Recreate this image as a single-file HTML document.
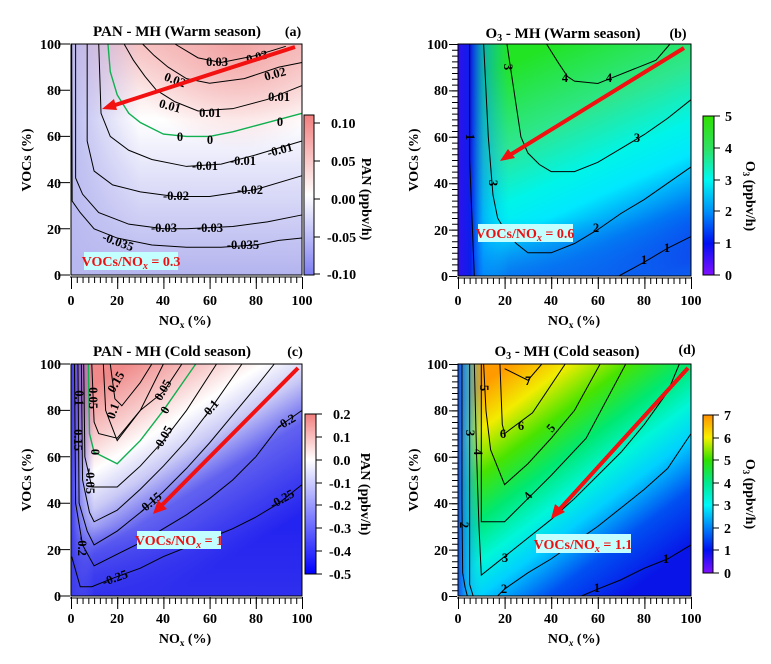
<!DOCTYPE html>
<html><head><meta charset="utf-8"><style>
html,body{margin:0;padding:0;background:#fff}
svg{display:block;font-family:"Liberation Serif",serif;font-weight:bold}
.t{font-size:14px}
.ti{font-size:15px}
.cl{font-size:12.5px}
.ct{fill:none;stroke:#000;stroke-width:1;vector-effect:non-scaling-stroke}
.cg{fill:none;stroke:#10b050;stroke-width:1.4;vector-effect:non-scaling-stroke}
</style></head><body>
<svg width="771" height="664" viewBox="0 0 771 664" xmlns="http://www.w3.org/2000/svg">
<defs>
<linearGradient id="gAv" gradientUnits="userSpaceOnUse" x1="0" y1="100" x2="0" y2="0">
<stop offset="0" stop-color="#f7c4c4"/><stop offset="0.33" stop-color="#ffffff"/><stop offset="0.55" stop-color="#e4e4fa"/><stop offset="1" stop-color="#b4b4ef"/></linearGradient>
<linearGradient id="gAh" gradientUnits="userSpaceOnUse" x1="0" y1="0" x2="30" y2="0">
<stop offset="0" stop-color="#b8b8f0" stop-opacity="0.95"/><stop offset="1" stop-color="#b8b8f0" stop-opacity="0"/></linearGradient>
<radialGradient id="gAr" gradientUnits="userSpaceOnUse" cx="72" cy="102" r="48">
<stop offset="0" stop-color="#f29e9e" stop-opacity="0.9"/><stop offset="1" stop-color="#f4a8a8" stop-opacity="0"/></radialGradient>

<linearGradient id="gB" gradientUnits="userSpaceOnUse" x1="40" y1="100" x2="85" y2="0">
<stop offset="0" stop-color="#22e422"/><stop offset="0.3" stop-color="#2ee690"/><stop offset="0.5" stop-color="#00f4e8"/><stop offset="0.62" stop-color="#00e8ff"/><stop offset="0.8" stop-color="#0078f4"/><stop offset="1" stop-color="#1020ee"/></linearGradient>
<linearGradient id="gBh" gradientUnits="userSpaceOnUse" x1="0" y1="0" x2="22" y2="0">
<stop offset="0" stop-color="#3010ee"/><stop offset="0.25" stop-color="#0820ea"/><stop offset="0.5" stop-color="#0090ff" stop-opacity="0.6"/><stop offset="1" stop-color="#00c0ff" stop-opacity="0"/></linearGradient>
<linearGradient id="gBb" gradientUnits="userSpaceOnUse" x1="0" y1="0" x2="0" y2="25">
<stop offset="0" stop-color="#0a70f0" stop-opacity="0.75"/><stop offset="1" stop-color="#0a80f0" stop-opacity="0"/></linearGradient>

<linearGradient id="gC" gradientUnits="userSpaceOnUse" x1="25" y1="100" x2="75" y2="20">
<stop offset="0" stop-color="#f08a8a"/><stop offset="0.2" stop-color="#f8cccc"/><stop offset="0.33" stop-color="#ffffff"/><stop offset="0.48" stop-color="#c8c8f6"/><stop offset="0.65" stop-color="#6262f0"/><stop offset="1" stop-color="#2424f0"/></linearGradient>
<linearGradient id="gCh" gradientUnits="userSpaceOnUse" x1="0" y1="0" x2="10" y2="0">
<stop offset="0" stop-color="#3a3aea"/><stop offset="1" stop-color="#6a6af0" stop-opacity="0"/></linearGradient>
<linearGradient id="gCb" gradientUnits="userSpaceOnUse" x1="0" y1="0" x2="0" y2="30">
<stop offset="0" stop-color="#3030ee" stop-opacity="0.9"/><stop offset="1" stop-color="#3030ee" stop-opacity="0"/></linearGradient>

<linearGradient id="gD" gradientUnits="userSpaceOnUse" x1="22" y1="100" x2="88" y2="12">
<stop offset="0" stop-color="#ff9a00"/><stop offset="0.14" stop-color="#f2ec00"/><stop offset="0.28" stop-color="#48e400"/><stop offset="0.42" stop-color="#00e870"/><stop offset="0.55" stop-color="#00f6d8"/><stop offset="0.66" stop-color="#00d0ff"/><stop offset="0.82" stop-color="#0050f2"/><stop offset="1" stop-color="#0814e8"/></linearGradient>
<linearGradient id="gDh" gradientUnits="userSpaceOnUse" x1="0" y1="0" x2="11" y2="0">
<stop offset="0" stop-color="#1050f0"/><stop offset="0.35" stop-color="#10a0f4" stop-opacity="0.8"/><stop offset="1" stop-color="#10d0f0" stop-opacity="0"/></linearGradient>

<linearGradient id="cbA" x1="0" y1="0" x2="0" y2="1"><stop offset="0" stop-color="#f27e7e"/><stop offset="0.5" stop-color="#ffffff"/><stop offset="1" stop-color="#7e7ef2"/></linearGradient>
<linearGradient id="cbB" x1="0" y1="0" x2="0" y2="1"><stop offset="0" stop-color="#30e000"/><stop offset="0.2" stop-color="#30e060"/><stop offset="0.4" stop-color="#00f8f0"/><stop offset="0.6" stop-color="#0090f8"/><stop offset="0.8" stop-color="#0010f0"/><stop offset="1" stop-color="#8010ff"/></linearGradient>
<linearGradient id="cbC" x1="0" y1="0" x2="0" y2="1"><stop offset="0" stop-color="#f27e7e"/><stop offset="0.286" stop-color="#ffffff"/><stop offset="1" stop-color="#0000ff"/></linearGradient>
<linearGradient id="cbD" x1="0" y1="0" x2="0" y2="1"><stop offset="0" stop-color="#ff9000"/><stop offset="0.143" stop-color="#f8f000"/><stop offset="0.286" stop-color="#30e000"/><stop offset="0.43" stop-color="#00e890"/><stop offset="0.57" stop-color="#00f8f8"/><stop offset="0.714" stop-color="#0080f8"/><stop offset="0.857" stop-color="#0010f0"/><stop offset="1" stop-color="#8010ff"/></linearGradient>
</defs>

<!-- ===== PANEL A ===== -->
<g transform="translate(71,275) scale(2.31,-2.31)">
<rect x="0" y="0" width="100" height="100" fill="url(#gAv)"/>
<rect x="0" y="0" width="100" height="100" fill="url(#gAr)"/>
<rect x="0" y="0" width="100" height="100" fill="url(#gAh)"/>
<polyline class="ct" points="0.3,100 0.5,32 4,27 10,20 20,16 35,13 50,12 65,12 80,13 90,15 100,16"/>
<polyline class="ct" points="2,100 2,42 5,35 12,27 25,22 40,20 50,20 70,21 85,23 100,26"/>
<polyline class="ct" points="7,100 7,58 10,45 18,39 30,36 45,34 60,34 80,37 100,43"/>
<polyline class="ct" points="12,100 13,70 17,60 25,54 35,50 50,47 65,48 80,52 100,58"/>
<polyline class="cg" points="16,100 17,88 20,78 25,70 30,66 40,61 50,60 60,60 70,62 85,66 100,70"/>
<polyline class="ct" points="23,100 27,93 32,86 37,80 45,75 55,71 70,72 85,76 100,82"/>
<polyline class="ct" points="31,100 36,95 42,90 50,85 60,83 75,85 90,90 100,92"/>
<polyline class="ct" points="45,100 55,94 65,92 80,95 93,99"/>
</g>
<rect x="71" y="44" width="231" height="231" fill="none" stroke="#000" stroke-width="1"/>
<g class="cl" text-anchor="middle">
<text x="217" y="66">0.03</text><text x="257" y="61" transform="rotate(-15 257 57)">0.03</text>
<text x="275" y="78" transform="rotate(-15 275 74)">0.02</text><text x="175" y="84" transform="rotate(20 175 80)">0.02</text>
<text x="279" y="101">0.01</text><text x="170" y="110" transform="rotate(15 170 106)">0.01</text><text x="210" y="117">0.01</text>
<text x="280" y="126">0</text><text x="180" y="141">0</text><text x="210" y="144">0</text>
<text x="280" y="154" transform="rotate(-15 280 150)">-0.01</text><text x="243" y="165">-0.01</text><text x="205" y="170">-0.01</text>
<text x="250" y="194">-0.02</text><text x="176" y="200">-0.02</text>
<text x="164" y="232">-0.03</text><text x="210" y="232">-0.03</text>
<text x="118" y="246" transform="rotate(20 118 242)">-0.035</text><text x="243" y="249">-0.035</text>
</g>
<line x1="295" y1="47" x2="112" y2="106" stroke="#f21010" stroke-width="4"/>
<polygon points="102,109 114,99 117,110" fill="#f21010"/>
<rect x="84" y="252" width="94" height="18" fill="#c4ffff"/>
<text x="131" y="266" font-size="14" fill="#ee1010" text-anchor="middle">VOCs/NO<tspan font-style="italic" font-size="10" dy="3">x</tspan><tspan dy="-3"> = 0.3</tspan></text>
<text x="177" y="36" class="ti" text-anchor="middle">PAN - MH (Warm season)</text>
<text x="293" y="36" class="t" text-anchor="middle">(a)</text>
<line x1="71" y1="280" x2="303" y2="280" stroke="#000" stroke-width="6" stroke-dasharray="1 4.775"/>
<line x1="71" y1="283" x2="303" y2="283" stroke="#000" stroke-width="12" stroke-dasharray="1 45.2"/>
<line x1="70" y1="277" x2="302" y2="277" stroke="#000"/>
<line x1="64" y1="44" x2="64" y2="276" stroke="#000" stroke-width="12" stroke-dasharray="1 45.2" transform="translate(0,-0.5)"/>
<g class="t" text-anchor="middle"><text x="71" y="305">0</text><text x="117" y="305">20</text><text x="163" y="305">40</text><text x="210" y="305">60</text><text x="256" y="305">80</text><text x="302" y="305">100</text></g>
<g class="t" text-anchor="end"><text x="61" y="280">0</text><text x="61" y="234">20</text><text x="61" y="188">40</text><text x="61" y="141">60</text><text x="61" y="95">80</text><text x="61" y="49">100</text></g>
<text x="185" y="325" class="t" text-anchor="middle">NO<tspan font-size="9" dy="3">x</tspan><tspan dy="-3"> (%)</tspan></text>
<text transform="translate(31,160) rotate(-90)" class="t" text-anchor="middle">VOCs (%)</text>
<rect x="304" y="115" width="10" height="160" fill="url(#cbA)" stroke="#000"/>
<g stroke="#000"><line x1="314" y1="123" x2="320" y2="123"/><line x1="314" y1="161" x2="320" y2="161"/><line x1="314" y1="199" x2="320" y2="199"/><line x1="314" y1="237" x2="320" y2="237"/><line x1="314" y1="274" x2="320" y2="274"/></g>
<g class="t"><text x="331" y="128">0.10</text><text x="331" y="166">0.05</text><text x="331" y="204">0.00</text><text x="327" y="242">-0.05</text><text x="327" y="279">-0.10</text></g>
<text transform="translate(362,199) rotate(90)" class="t" text-anchor="middle">PAN (ppbv/h)</text>

<!-- ===== PANEL B ===== -->
<g transform="translate(458,276) scale(2.33,-2.32)">
<rect x="0" y="0" width="100" height="100" fill="url(#gB)"/>
<rect x="0" y="0" width="100" height="100" fill="url(#gBb)"/>
<rect x="0" y="0" width="100" height="100" fill="url(#gBh)"/>
<polyline class="ct" points="5,100 5,50 7,0"/>
<polyline class="ct" points="11,100 13,60 15,35 17,25 20,20 25,14 30,10 40,10 50,14 60,20 70,27 80,33 90,40 100,47"/>
<polyline class="ct" points="21,100 24,80 27,60 30,53 35,48 40,45 50,45 60,49 70,55 80,61 90,68 100,76"/>
<polyline class="ct" points="38,100 43,92 47,86 50,84 60,83 65,85 75,89 85,93 91,100"/>
<polyline class="ct" points="69,0 80,6 90,12 100,17"/>
</g>
<rect x="458" y="44" width="233" height="232" fill="none" stroke="#000"/>
<g class="cl" text-anchor="middle">
<text x="565" y="82">4</text><text x="609" y="82">4</text><text x="508" y="71" transform="rotate(90 508 67)">3</text>
<text x="637" y="142">3</text><text x="493" y="187" transform="rotate(90 493 183)">3</text><text x="470" y="141" transform="rotate(90 470 137)">1</text>
<text x="596" y="232">2</text><text x="644" y="264">1</text><text x="667" y="252">1</text>
</g>
<line x1="684" y1="48" x2="510" y2="155" stroke="#f21010" stroke-width="4"/>
<polygon points="500,161 508,149 515,158" fill="#f21010"/>
<rect x="478" y="224" width="95" height="18" fill="#c4ffff"/>
<text x="525" y="238" font-size="14" fill="#ee1010" text-anchor="middle">VOCs/NO<tspan font-style="italic" font-size="10" dy="3">x</tspan><tspan dy="-3"> = 0.6</tspan></text>
<text x="563" y="38" class="ti" text-anchor="middle">O<tspan font-size="10" dy="3">3</tspan><tspan dy="-3"> - MH (Warm season)</tspan></text>
<text x="678" y="38" class="t" text-anchor="middle">(b)</text>
<line x1="458" y1="281" x2="691" y2="281" stroke="#000" stroke-width="6" stroke-dasharray="1 4.825"/>
<line x1="458" y1="283" x2="692" y2="283" stroke="#000" stroke-width="12" stroke-dasharray="1 45.6"/>
<line x1="457" y1="278" x2="691" y2="278" stroke="#000"/>
<line x1="455" y1="44" x2="455" y2="276" stroke="#000" stroke-width="6" stroke-dasharray="1 4.8"/>
<line x1="453" y1="44" x2="453" y2="277" stroke="#000" stroke-width="8" stroke-dasharray="1 45.4"/>
<g class="t" text-anchor="middle"><text x="458" y="305">0</text><text x="505" y="305">20</text><text x="551" y="305">40</text><text x="598" y="305">60</text><text x="644" y="305">80</text><text x="691" y="305">100</text></g>
<g class="t" text-anchor="end"><text x="448" y="281">0</text><text x="448" y="235">20</text><text x="448" y="188">40</text><text x="448" y="142">60</text><text x="448" y="95">80</text><text x="448" y="49">100</text></g>
<text x="574" y="325" class="t" text-anchor="middle">NO<tspan font-size="9" dy="3">x</tspan><tspan dy="-3"> (%)</tspan></text>
<text transform="translate(418,160) rotate(-90)" class="t" text-anchor="middle">VOCs (%)</text>
<rect x="703" y="116" width="11" height="159" fill="url(#cbB)" stroke="#000"/>
<g stroke="#000"><line x1="714" y1="116" x2="720" y2="116"/><line x1="714" y1="148" x2="720" y2="148"/><line x1="714" y1="180" x2="720" y2="180"/><line x1="714" y1="211" x2="720" y2="211"/><line x1="714" y1="243" x2="720" y2="243"/><line x1="714" y1="275" x2="720" y2="275"/></g>
<g class="t"><text x="725" y="121">5</text><text x="725" y="153">4</text><text x="725" y="185">3</text><text x="725" y="216">2</text><text x="725" y="248">1</text><text x="725" y="280">0</text></g>
<text transform="translate(746,196) rotate(90)" class="t" text-anchor="middle">O<tspan font-size="9" dy="3">3</tspan><tspan dy="-3"> (ppbv/h)</tspan></text>

<!-- ===== PANEL C ===== -->
<g transform="translate(71,596) scale(2.31,-2.32)">
<rect x="0" y="0" width="100" height="100" fill="url(#gC)"/>
<rect x="0" y="0" width="100" height="100" fill="url(#gCb)"/>
<rect x="0" y="0" width="100" height="100" fill="url(#gCh)"/>
<polyline class="ct" points="17,100 19,85 22,82 30,92 35,100"/>
<polyline class="ct" points="14,100 15,80 20,67 30,80 40,100"/>
<polyline class="ct" points="9,100 10,75 12,70 20,68 30,80 40,88 48,100"/>
<polyline class="cg" points="7.5,100 8,70 10,62 20,57 30,67 40,80 54,100"/>
<polyline class="ct" points="5.5,100 6,60 9,47 20,47 30,56 40,67 50,80 63,100"/>
<polyline class="ct" points="4.5,100 5,50 8,36 10,32 20,37 30,46 40,56 50,67 60,80 74,100"/>
<polyline class="ct" points="3,100 3.5,40 7,28 10,22 20,28 30,36 40,45 50,55 60,66 70,78 80,90 88,100"/>
<polyline class="ct" points="1.5,100 2,40 5,22 10,13 20,18 30,23 40,29 50,35 60,42 70,50 80,60 90,73 100,80"/>
<polyline class="ct" points="0.3,17 4,4 9,4 19,8 30,12 40,17 50,21 60,25 70,29 80,34 90,40 100,48"/>
</g>
<rect x="71" y="364" width="231" height="232" fill="none" stroke="#000"/>
<g class="cl" text-anchor="middle">
<text x="116" y="386" transform="rotate(-60 116 382)">0.15</text><text x="163" y="394" transform="rotate(-60 163 390)">0.05</text>
<text x="113" y="415" transform="rotate(-70 113 411)">0.1</text><text x="93" y="402" transform="rotate(90 93 398)">0.05</text>
<text x="79" y="402" transform="rotate(90 79 398)">0.1</text><text x="165" y="414" transform="rotate(-60 165 410)">0</text>
<text x="78" y="444" transform="rotate(90 78 440)">0.15</text><text x="163" y="442" transform="rotate(-60 163 438)">-0.05</text>
<text x="95" y="456" transform="rotate(90 95 452)">0</text><text x="90" y="485" transform="rotate(90 90 481)">-0.05</text>
<text x="210" y="413" transform="rotate(-50 210 409)">-0.1</text><text x="286" y="426" transform="rotate(-30 286 422)">-0.2</text>
<text x="150" y="507" transform="rotate(-40 150 503)">-0.15</text><text x="282" y="503" transform="rotate(-30 282 499)">-0.25</text>
<text x="82" y="550" transform="rotate(90 82 546)">-0.2</text><text x="115" y="582" transform="rotate(-20 115 578)">-0.25</text>
</g>
<line x1="298" y1="368" x2="162" y2="505" stroke="#f21010" stroke-width="4"/>
<polygon points="153,514 158,500 167,509" fill="#f21010"/>
<rect x="137" y="531" width="84" height="18" fill="#c4ffff"/>
<text x="179" y="545" font-size="14" fill="#ee1010" text-anchor="middle">VOCs/NO<tspan font-style="italic" font-size="10" dy="3">x</tspan><tspan dy="-3"> = 1</tspan></text>
<text x="172" y="356" class="ti" text-anchor="middle">PAN - MH (Cold season)</text>
<text x="295" y="356" class="t" text-anchor="middle">(c)</text>
<line x1="71" y1="601" x2="303" y2="601" stroke="#000" stroke-width="6" stroke-dasharray="1 4.775"/>
<line x1="71" y1="603" x2="303" y2="603" stroke="#000" stroke-width="12" stroke-dasharray="1 45.2"/>
<line x1="70" y1="598" x2="302" y2="598" stroke="#000"/>
<line x1="64" y1="364" x2="64" y2="597" stroke="#000" stroke-width="12" stroke-dasharray="1 45.4" transform="translate(0,-0.5)"/>
<g class="t" text-anchor="middle"><text x="71" y="623">0</text><text x="117" y="623">20</text><text x="163" y="623">40</text><text x="210" y="623">60</text><text x="256" y="623">80</text><text x="302" y="623">100</text></g>
<g class="t" text-anchor="end"><text x="61" y="601">0</text><text x="61" y="555">20</text><text x="61" y="508">40</text><text x="61" y="462">60</text><text x="61" y="415">80</text><text x="61" y="369">100</text></g>
<text x="185" y="643" class="t" text-anchor="middle">NO<tspan font-size="9" dy="3">x</tspan><tspan dy="-3"> (%)</tspan></text>
<text transform="translate(31,480) rotate(-90)" class="t" text-anchor="middle">VOCs (%)</text>
<rect x="305" y="414" width="11" height="160" fill="url(#cbC)" stroke="#000"/>
<g stroke="#000"><line x1="316" y1="414" x2="322" y2="414"/><line x1="316" y1="437" x2="322" y2="437"/><line x1="316" y1="460" x2="322" y2="460"/><line x1="316" y1="483" x2="322" y2="483"/><line x1="316" y1="505" x2="322" y2="505"/><line x1="316" y1="528" x2="322" y2="528"/><line x1="316" y1="551" x2="322" y2="551"/><line x1="316" y1="574" x2="322" y2="574"/></g>
<g class="t"><text x="333" y="419">0.2</text><text x="333" y="442">0.1</text><text x="333" y="465">0.0</text><text x="329" y="488">-0.1</text><text x="329" y="510">-0.2</text><text x="329" y="533">-0.3</text><text x="329" y="556">-0.4</text><text x="329" y="579">-0.5</text></g>
<text transform="translate(361,494) rotate(90)" class="t" text-anchor="middle">PAN (ppbv/h)</text>

<!-- ===== PANEL D ===== -->
<g transform="translate(458,596) scale(2.33,-2.32)">
<rect x="0" y="0" width="100" height="100" fill="url(#gD)"/>
<rect x="0" y="0" width="100" height="100" fill="url(#gDh)"/>
<polyline class="ct" points="1.7,100 1.7,40 2,10 3,4 4,0"/>
<polyline class="ct" points="5,100 5,5 6.5,0"/>
<polyline class="ct" points="7,100 8,60 9,30 10,9 20,17 30,25 40,33 50,42 60,52 70,62 80,74 90,88 95,100"/>
<polyline class="ct" points="10,100 10,60 10,32 20,32 30,42 40,52 55,68 72,100"/>
<polyline class="ct" points="11,100 12,80 14,63 20,48 30,57 40,68 50,80 61,100"/>
<polyline class="ct" points="18,100 19,74 20,70 32,79 46,100"/>
<polyline class="ct" points="20,98 30,93 36,100"/>
<polyline class="ct" points="17,0 20,3 30,10 40,16 50,23 60,30 70,38 80,46 90,55 100,70"/>
<polyline class="ct" points="53,0 60,3 70,7 80,12 90,16 100,22"/>
</g>
<rect x="458" y="364" width="233" height="232" fill="none" stroke="#000"/>
<g class="cl" text-anchor="middle">
<text x="528" y="385">7</text><text x="484" y="392" transform="rotate(90 484 388)">5</text>
<text x="503" y="438">6</text><text x="521" y="430">6</text><text x="551" y="432" transform="rotate(-50 551 428)">5</text>
<text x="470" y="437" transform="rotate(90 470 433)">3</text><text x="478" y="456" transform="rotate(90 478 452)">4</text>
<text x="528" y="500" transform="rotate(-50 528 496)">4</text><text x="464" y="529" transform="rotate(90 464 525)">2</text>
<text x="505" y="562">3</text><text x="504" y="593">2</text><text x="597" y="592">1</text><text x="666" y="563">1</text>
</g>
<line x1="688" y1="368" x2="559" y2="510" stroke="#f21010" stroke-width="4"/>
<polygon points="551,519 555,504 565,512" fill="#f21010"/>
<rect x="536" y="534" width="95" height="19" fill="#c4ffff"/>
<text x="583" y="549" font-size="14" fill="#ee1010" text-anchor="middle">VOCs/NO<tspan font-style="italic" font-size="10" dy="3">x</tspan><tspan dy="-3"> = 1.1</tspan></text>
<text x="567" y="356" class="ti" text-anchor="middle">O<tspan font-size="10" dy="3">3</tspan><tspan dy="-3"> - MH (Cold season)</tspan></text>
<text x="687" y="354" class="t" text-anchor="middle">(d)</text>
<line x1="458" y1="601" x2="691" y2="601" stroke="#000" stroke-width="6" stroke-dasharray="1 4.825"/>
<line x1="458" y1="603" x2="692" y2="603" stroke="#000" stroke-width="12" stroke-dasharray="1 45.6"/>
<line x1="457" y1="598" x2="691" y2="598" stroke="#000"/>
<line x1="455" y1="364" x2="455" y2="596" stroke="#000" stroke-width="6" stroke-dasharray="1 4.8"/>
<line x1="453" y1="364" x2="453" y2="597" stroke="#000" stroke-width="8" stroke-dasharray="1 45.4"/>
<g class="t" text-anchor="middle"><text x="458" y="623">0</text><text x="505" y="623">20</text><text x="551" y="623">40</text><text x="598" y="623">60</text><text x="644" y="623">80</text><text x="691" y="623">100</text></g>
<g class="t" text-anchor="end"><text x="448" y="601">0</text><text x="448" y="555">20</text><text x="448" y="508">40</text><text x="448" y="462">60</text><text x="448" y="415">80</text><text x="448" y="369">100</text></g>
<text x="574" y="643" class="t" text-anchor="middle">NO<tspan font-size="9" font-style="italic" dy="3">x</tspan><tspan dy="-3"> (%)</tspan></text>
<text transform="translate(418,480) rotate(-90)" class="t" text-anchor="middle">VOCs (%)</text>
<rect x="703" y="415" width="10" height="158" fill="url(#cbD)" stroke="#000"/>
<g stroke="#000"><line x1="713" y1="415" x2="719" y2="415"/><line x1="713" y1="438" x2="719" y2="438"/><line x1="713" y1="460" x2="719" y2="460"/><line x1="713" y1="483" x2="719" y2="483"/><line x1="713" y1="505" x2="719" y2="505"/><line x1="713" y1="528" x2="719" y2="528"/><line x1="713" y1="550" x2="719" y2="550"/><line x1="713" y1="573" x2="719" y2="573"/></g>
<g class="t"><text x="724" y="420">7</text><text x="724" y="443">6</text><text x="724" y="465">5</text><text x="724" y="488">4</text><text x="724" y="510">3</text><text x="724" y="533">2</text><text x="724" y="555">1</text><text x="724" y="578">0</text></g>
<text transform="translate(746,494) rotate(90)" class="t" text-anchor="middle">O<tspan font-size="9" dy="3">3</tspan><tspan dy="-3"> (ppbv/h)</tspan></text>
</svg>
</body></html>
